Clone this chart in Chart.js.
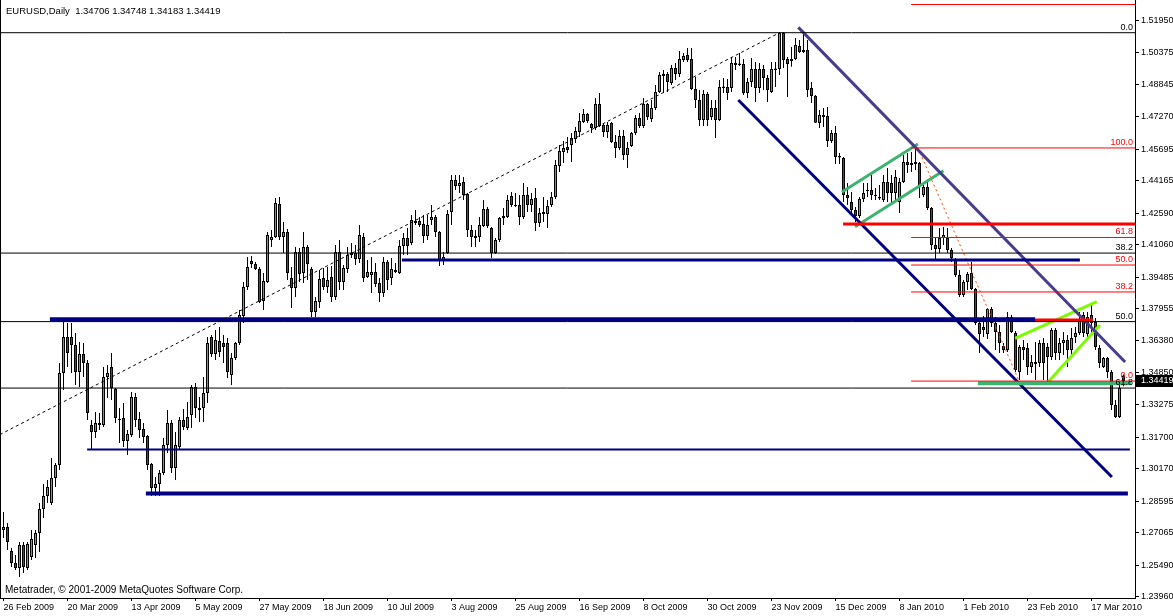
<!DOCTYPE html>
<html>
<head>
<meta charset="utf-8">
<script src="https://cdn.jsdelivr.net/npm/chart.js@4.4.1/dist/chart.umd.min.js"></script>
<style>
    html, body { margin: 0; padding: 0; background: #fff; }
    #wrap { width: 1173px; height: 616px; position: relative; }
</style>
</head>
<body>
<div id="wrap"><canvas id="chart"></canvas></div>
<script>
// EURUSD daily candles, 26 Feb 2009 - 29 Mar 2010
const opens = [
    1.2719, 1.2734, 1.2617, 1.2559, 1.2535, 1.2646, 1.2535, 1.2588, 1.2646, 1.2705,
    1.2821, 1.2884, 1.2850, 1.2972, 1.3035, 1.3482, 1.3657, 1.3657, 1.3618, 1.3487,
    1.3575, 1.3531, 1.3230, 1.3196, 1.3239, 1.3230, 1.3463, 1.3511, 1.3404, 1.3259,
    1.3264, 1.3152, 1.3181, 1.3366, 1.3259, 1.3210, 1.3176, 1.3040, 1.2923, 1.2943,
    1.2996, 1.3132, 1.3239, 1.3020, 1.3123, 1.3254, 1.3215, 1.3278, 1.3414, 1.3312,
    1.3312, 1.3385, 1.3657, 1.3575, 1.3638, 1.3628, 1.3628, 1.3473, 1.3555, 1.3628,
    1.3759, 1.3900, 1.4027, 1.4012, 1.3988, 1.3832, 1.3925, 1.4129, 1.4143, 1.4304,
    1.4143, 1.4168, 1.3944, 1.3895, 1.4070, 1.3968, 1.4095, 1.3988, 1.3779, 1.3827,
    1.3944, 1.3900, 1.3949, 1.3852, 1.4070, 1.3925, 1.3988, 1.4056, 1.4065, 1.4036,
    1.4143, 1.3949, 1.3959, 1.3973, 1.3920, 1.3871, 1.4022, 1.3944, 1.3983, 1.3968,
    1.4099, 1.4138, 1.4114, 1.4211, 1.4221, 1.4206, 1.4148, 1.4226, 1.4240, 1.4168,
    1.4031, 1.4065, 1.4265, 1.4420, 1.4391, 1.4411, 1.4352, 1.4177, 1.4148, 1.4143,
    1.4197, 1.4279, 1.4187, 1.4065, 1.4129, 1.4236, 1.4240, 1.4342, 1.4299, 1.4299,
    1.4240, 1.4347, 1.4299, 1.4333, 1.4211, 1.4255, 1.4255, 1.4299, 1.4338, 1.4488,
    1.4556, 1.4581, 1.4590, 1.4619, 1.4654, 1.4702, 1.4741, 1.4692, 1.4673, 1.4790,
    1.4688, 1.4654, 1.4697, 1.4605, 1.4576, 1.4634, 1.4542, 1.4585, 1.4649, 1.4722,
    1.4683, 1.4790, 1.4717, 1.4770, 1.4848, 1.4935, 1.4935, 1.4892, 1.4965, 1.4935,
    1.5003, 1.5028, 1.5008, 1.4863, 1.4809, 1.4712, 1.4838, 1.4726, 1.4770, 1.4712,
    1.4867, 1.4872, 1.4867, 1.4989, 1.4986, 1.4984, 1.4843, 1.4897, 1.4960, 1.4867,
    1.4960, 1.4916, 1.4848, 1.4955, 1.4960, 1.5135, 1.5008, 1.4999, 1.5008, 1.5071,
    1.5052, 1.5052, 1.4867, 1.4829, 1.4697, 1.4736, 1.4731, 1.4610, 1.4649, 1.4537,
    1.4527, 1.4347, 1.4313, 1.4274, 1.4245, 1.4328, 1.4367, 1.4372, 1.4347, 1.4338,
    1.4323, 1.4410, 1.4406, 1.4357, 1.4313, 1.4410, 1.4508, 1.4503, 1.4508, 1.4503,
    1.4347, 1.4386, 1.4284, 1.4104, 1.4085, 1.4138, 1.4138, 1.4080, 1.4031, 1.3959,
    1.3861, 1.3925, 1.3968, 1.3890, 1.3725, 1.3706, 1.3672, 1.3793, 1.3725, 1.3681,
    1.3613, 1.3594, 1.3754, 1.3677, 1.3487, 1.3609, 1.3604, 1.3511, 1.3536, 1.3531,
    1.3628, 1.3609, 1.3560, 1.3691, 1.3579, 1.3628, 1.3643, 1.3594, 1.3657, 1.3677,
    1.3764, 1.3672, 1.3764, 1.3730, 1.3604, 1.3511, 1.3555, 1.3487, 1.3327, 1.3268,
    1.34706
];
const highs = [
    1.2807, 1.2753, 1.2632, 1.2598, 1.2661, 1.2661, 1.2661, 1.2719, 1.2719, 1.2850,
    1.2943, 1.2962, 1.3069, 1.3045, 1.3531, 1.3730, 1.3725, 1.3725, 1.3677, 1.3633,
    1.3628, 1.3545, 1.3254, 1.3293, 1.3288, 1.3511, 1.3521, 1.3579, 1.3409, 1.3312,
    1.3336, 1.3205, 1.3390, 1.3385, 1.3293, 1.3239, 1.3181, 1.3045, 1.2977, 1.3011,
    1.3166, 1.3302, 1.3254, 1.3196, 1.3268, 1.3307, 1.3341, 1.3424, 1.3434, 1.3366,
    1.3463, 1.3657, 1.3667, 1.3691, 1.3706, 1.3667, 1.3652, 1.3579, 1.3633, 1.3788,
    1.3925, 1.4046, 1.4051, 1.4022, 1.3997, 1.3968, 1.4168, 1.4177, 1.4333, 1.4338,
    1.4216, 1.4182, 1.3997, 1.4095, 1.4090, 1.4168, 1.4104, 1.3997, 1.3852, 1.3983,
    1.3993, 1.3997, 1.4002, 1.4104, 1.4129, 1.4007, 1.4095, 1.4114, 1.4104, 1.4202,
    1.4163, 1.4031, 1.4046, 1.4017, 1.3944, 1.4046, 1.4031, 1.4041, 1.4017, 1.4129,
    1.4163, 1.4187, 1.4250, 1.4274, 1.4240, 1.4250, 1.4250, 1.4299, 1.4250, 1.4172,
    1.4070, 1.4274, 1.4445, 1.4445, 1.4445, 1.4435, 1.4357, 1.4202, 1.4177, 1.4240,
    1.4323, 1.4289, 1.4192, 1.4138, 1.4240, 1.4284, 1.4347, 1.4362, 1.4357, 1.4347,
    1.4406, 1.4386, 1.4357, 1.4381, 1.4284, 1.4338, 1.4323, 1.4362, 1.4517, 1.4590,
    1.4610, 1.4629, 1.4649, 1.4678, 1.4746, 1.4765, 1.4746, 1.4697, 1.4819, 1.4843,
    1.4697, 1.4702, 1.4702, 1.4639, 1.4663, 1.4663, 1.4605, 1.4654, 1.4736, 1.4746,
    1.4819, 1.4794, 1.4809, 1.4882, 1.4945, 1.4955, 1.4945, 1.4979, 1.4989, 1.5047,
    1.5037, 1.5062, 1.5062, 1.4921, 1.4858, 1.4858, 1.4848, 1.4809, 1.4809, 1.4906,
    1.4916, 1.4911, 1.5018, 1.5018, 1.5037, 1.5008, 1.4916, 1.5013, 1.4994, 1.4989,
    1.4979, 1.4931, 1.4994, 1.4994, 1.5140, 1.5140, 1.5018, 1.5067, 1.5110, 1.5101,
    1.5135, 1.5101, 1.4897, 1.4833, 1.4760, 1.4770, 1.4775, 1.4663, 1.4683, 1.4551,
    1.4532, 1.4406, 1.4362, 1.4289, 1.4338, 1.4406, 1.4406, 1.4445, 1.4381, 1.4396,
    1.4445, 1.4479, 1.4445, 1.4469, 1.4430, 1.4542, 1.4551, 1.4556, 1.4576, 1.4508,
    1.4406, 1.4420, 1.4289, 1.4143, 1.4187, 1.4192, 1.4187, 1.4090, 1.4041, 1.3983,
    1.3934, 1.3973, 1.4022, 1.3895, 1.3740, 1.3759, 1.3798, 1.3803, 1.3754, 1.3716,
    1.3628, 1.3779, 1.3764, 1.3686, 1.3618, 1.3643, 1.3628, 1.3570, 1.3633, 1.3643,
    1.3652, 1.3628, 1.3701, 1.3701, 1.3652, 1.3681, 1.3667, 1.3701, 1.3706, 1.3779,
    1.3779, 1.3779, 1.3813, 1.3750, 1.3618, 1.3560, 1.3560, 1.3497, 1.3351, 1.3424,
    1.34748
];
const lows = [
    1.2680, 1.2622, 1.2539, 1.2525, 1.2491, 1.2510, 1.2525, 1.2573, 1.2583, 1.2612,
    1.2777, 1.2850, 1.2841, 1.2928, 1.3011, 1.3400, 1.3511, 1.3482, 1.3424, 1.3414,
    1.3463, 1.3254, 1.3113, 1.3166, 1.3205, 1.3220, 1.3361, 1.3351, 1.3239, 1.3142,
    1.3123, 1.3084, 1.3171, 1.3220, 1.3166, 1.3142, 1.3011, 1.2884, 1.2884, 1.2884,
    1.2987, 1.3093, 1.2996, 1.2962, 1.3113, 1.3205, 1.3205, 1.3215, 1.3264, 1.3244,
    1.3244, 1.3336, 1.3560, 1.3545, 1.3560, 1.3531, 1.3458, 1.3424, 1.3545, 1.3618,
    1.3725, 1.3886, 1.3993, 1.3983, 1.3822, 1.3788, 1.3920, 1.4095, 1.4138, 1.4129,
    1.4065, 1.3934, 1.3798, 1.3852, 1.3925, 1.3920, 1.3934, 1.3754, 1.3754, 1.3798,
    1.3886, 1.3871, 1.3827, 1.3837, 1.3886, 1.3886, 1.3968, 1.4041, 1.4007, 1.4017,
    1.3925, 1.3944, 1.3871, 1.3900, 1.3827, 1.3852, 1.3886, 1.3910, 1.3968, 1.3963,
    1.4056, 1.4056, 1.4104, 1.4202, 1.4192, 1.4114, 1.4129, 1.4202, 1.4143, 1.4002,
    1.4007, 1.4061, 1.4202, 1.4372, 1.4357, 1.4323, 1.4143, 1.4095, 1.4095, 1.4119,
    1.4192, 1.4187, 1.4041, 1.4061, 1.4119, 1.4202, 1.4236, 1.4289, 1.4289, 1.4202,
    1.4231, 1.4265, 1.4265, 1.4172, 1.4192, 1.4216, 1.4187, 1.4289, 1.4328, 1.4459,
    1.4503, 1.4551, 1.4508, 1.4600, 1.4629, 1.4697, 1.4697, 1.4649, 1.4663, 1.4678,
    1.4629, 1.4624, 1.4600, 1.4527, 1.4566, 1.4517, 1.4479, 1.4581, 1.4639, 1.4673,
    1.4673, 1.4712, 1.4702, 1.4760, 1.4843, 1.4843, 1.4848, 1.4882, 1.4906, 1.4921,
    1.4994, 1.4994, 1.4858, 1.4770, 1.4683, 1.4683, 1.4683, 1.4712, 1.4624, 1.4707,
    1.4843, 1.4809, 1.4848, 1.4955, 1.4974, 1.4833, 1.4819, 1.4872, 1.4799, 1.4843,
    1.4858, 1.4799, 1.4843, 1.4872, 1.4931, 1.4965, 1.4824, 1.4970, 1.5003, 1.5037,
    1.5037, 1.4824, 1.4794, 1.4697, 1.4673, 1.4678, 1.4581, 1.4600, 1.4498, 1.4498,
    1.4313, 1.4299, 1.4250, 1.4216, 1.4236, 1.4313, 1.4338, 1.4323, 1.4323, 1.4323,
    1.4313, 1.4313, 1.4308, 1.4313, 1.4260, 1.4406, 1.4454, 1.4459, 1.4469, 1.4333,
    1.4338, 1.4274, 1.4080, 1.4031, 1.4065, 1.4104, 1.4065, 1.4022, 1.3949, 1.3852,
    1.3852, 1.3886, 1.3886, 1.3716, 1.3579, 1.3657, 1.3648, 1.3706, 1.3594, 1.3579,
    1.3579, 1.3584, 1.3677, 1.3487, 1.3448, 1.3545, 1.3473, 1.3482, 1.3448, 1.3511,
    1.3448, 1.3434, 1.3545, 1.3545, 1.3545, 1.3570, 1.3511, 1.3555, 1.3628, 1.3667,
    1.3657, 1.3657, 1.3677, 1.3594, 1.3507, 1.3507, 1.3458, 1.3302, 1.3264, 1.3264,
    1.34183
];
const closes = [
    1.2734, 1.2661, 1.2559, 1.2535, 1.2646, 1.2539, 1.2651, 1.2675, 1.2705, 1.2821,
    1.2884, 1.2928, 1.2972, 1.3035, 1.3482, 1.3657, 1.3579, 1.3618, 1.3487, 1.3575,
    1.3531, 1.3288, 1.3196, 1.3239, 1.3230, 1.3463, 1.3482, 1.3409, 1.3264, 1.3254,
    1.3152, 1.3186, 1.3366, 1.3254, 1.3205, 1.3171, 1.3035, 1.2923, 1.2943, 1.2996,
    1.3132, 1.3239, 1.3020, 1.3132, 1.3254, 1.3220, 1.3268, 1.3414, 1.3312, 1.3302,
    1.3385, 1.3628, 1.3575, 1.3643, 1.3584, 1.3609, 1.3487, 1.3555, 1.3628, 1.3764,
    1.3900, 1.3997, 1.4012, 1.3988, 1.3827, 1.3929, 1.4153, 1.4143, 1.4308, 1.4143,
    1.4168, 1.3968, 1.3895, 1.4070, 1.3963, 1.4095, 1.4012, 1.3779, 1.3832, 1.3939,
    1.3900, 1.3934, 1.3852, 1.4070, 1.3925, 1.3993, 1.4056, 1.4065, 1.4036, 1.4153,
    1.3944, 1.3973, 1.3973, 1.3915, 1.3871, 1.4022, 1.3934, 1.3988, 1.3973, 1.4099,
    1.4138, 1.4099, 1.4226, 1.4221, 1.4202, 1.4148, 1.4202, 1.4240, 1.4168, 1.4031,
    1.4046, 1.4255, 1.4420, 1.4391, 1.4406, 1.4347, 1.4177, 1.4143, 1.4138, 1.4202,
    1.4279, 1.4197, 1.4065, 1.4129, 1.4236, 1.4245, 1.4323, 1.4299, 1.4294, 1.4240,
    1.4347, 1.4299, 1.4328, 1.4211, 1.4260, 1.4265, 1.4294, 1.4338, 1.4493, 1.4561,
    1.4576, 1.4566, 1.4624, 1.4658, 1.4707, 1.4741, 1.4707, 1.4673, 1.4790, 1.4683,
    1.4654, 1.4688, 1.4605, 1.4576, 1.4634, 1.4542, 1.4576, 1.4649, 1.4722, 1.4683,
    1.4790, 1.4726, 1.4770, 1.4848, 1.4931, 1.4926, 1.4897, 1.4965, 1.4935, 1.5008,
    1.5023, 1.5003, 1.4863, 1.4809, 1.4712, 1.4838, 1.4712, 1.4770, 1.4712, 1.4872,
    1.4875, 1.4843, 1.4989, 1.4979, 1.4979, 1.4843, 1.4897, 1.4960, 1.4867, 1.4960,
    1.4916, 1.4858, 1.4960, 1.4962, 1.5135, 1.5003, 1.4984, 1.5008, 1.5076, 1.5042,
    1.5042, 1.4858, 1.4829, 1.4699, 1.4736, 1.4726, 1.4610, 1.4649, 1.4532, 1.4530,
    1.4347, 1.4333, 1.4274, 1.4245, 1.4328, 1.4357, 1.4372, 1.4347, 1.4342, 1.4330,
    1.4410, 1.4357, 1.4357, 1.4435, 1.4410, 1.4508, 1.4493, 1.4493, 1.4498, 1.4386,
    1.4386, 1.4284, 1.4104, 1.4085, 1.4138, 1.4153, 1.4080, 1.4041, 1.3959, 1.3861,
    1.3925, 1.3963, 1.3890, 1.3725, 1.3672, 1.3691, 1.3793, 1.3725, 1.3681, 1.3628,
    1.3594, 1.3754, 1.3681, 1.3497, 1.3609, 1.3594, 1.3511, 1.3536, 1.3526, 1.3628,
    1.3531, 1.3560, 1.3691, 1.3579, 1.3628, 1.3643, 1.3594, 1.3652, 1.3677, 1.3740,
    1.3677, 1.3754, 1.3725, 1.3609, 1.3531, 1.3555, 1.3487, 1.3327, 1.3268, 1.3409,
    1.34419
];

// axis labels
const dateTickIndex = [0, 16, 32, 48, 64, 80, 96, 112, 128, 144, 160, 176, 192, 208, 224, 240, 256, 272];
const dateTickLabels = ['26 Feb 2009', '20 Mar 2009', '13 Apr 2009', '5 May 2009', '27 May 2009', '18 Jun 2009',
    '10 Jul 2009', '3 Aug 2009', '25 Aug 2009', '16 Sep 2009', '8 Oct 2009', '30 Oct 2009', '23 Nov 2009',
    '15 Dec 2009', '8 Jan 2010', '1 Feb 2010', '23 Feb 2010', '17 Mar 2010'];
const priceTicks = [1.51950, 1.50375, 1.48845, 1.47270, 1.45695, 1.44165, 1.42590, 1.41060, 1.39485, 1.37955,
    1.36380, 1.34850, 1.33275, 1.31700, 1.30170, 1.28595, 1.27065, 1.25490, 1.23960];

// objects drawn on the chart (bar index, price)
const fibBlackLevels = [1.5136, 1.4065, 1.3732, 1.3409];
const fibBlackNames = ['0.0', '38.2', '50.0', '61.8'];
const fibRedLevels = [1.5273, 1.4576, 1.4141, 1.4007, 1.3876, 1.3443];
const fibRedNames = ['', '100.0', '61.8', '50.0', '38.2', '0.0'];
const fibRedFrom = 226.9;
const supportLevels = [1.4031, 1.3743, 1.3110, 1.2897];
const supportFrom = [99.6, 11.6, 20.9, 35.6];
const supportTo = [269.1, 257.9, 281.6, 281.1];
const redLevels = [1.4206, 1.3740];
const redFrom = [209.9, 252.4];
const redTo = [282.9, 272.4];
const greenLevel = [1.3432, 243.6, 281.9];
const fibTrendBlack = [-0.9, 1.3183, 194.0, 1.5136];
const fibTrendRed = [228.6, 1.4576, 253.9, 1.3443];
const channelLow = [183.7, 1.4809, 277.1, 1.2977];
const channelHigh = [198.7, 1.5162, 280.4, 1.3536];
const flagUpper = [209.6, 1.4362, 228.6, 1.4595];
const flagLower = [212.9, 1.4193, 235.0, 1.4465];
const wedgeUpper = [252.9, 1.3651, 273.3, 1.3829];
const wedgeLower = [261.2, 1.3440, 274.1, 1.3716];

const upColour = 'rgb(50,205,50)';
const downColour = 'rgb(255,0,0)';
const fontFamily = '"Liberation Sans", Arial, sans-serif';
const fontSize = 9;

Chart.defaults.font.family = fontFamily;
Chart.defaults.font.size = fontSize;
Chart.defaults.color = '#000';

function segment(x1, y1, x2, y2, colour, width, dash) {
    return {
        type: 'line',
        data: [{x: x1, y: y1}, {x: x2, y: y2}],
        borderColor: colour,
        borderWidth: width,
        borderDash: dash || [],
        pointRadius: 0,
        fill: false,
        tension: 0,
        order: 0
    };
}

const lineSets = [];
fibBlackLevels.forEach(p => lineSets.push(segment(-0.9, p, 283, p, '#000', 1)));
fibRedLevels.forEach(p => lineSets.push(segment(fibRedFrom, p, 283, p, '#ff0000', 1)));
lineSets.push(segment(...fibTrendBlack, '#000', 1, [3, 3]));
const supportWidths = [3, 4, 2, 4];
supportLevels.forEach((p, k) => lineSets.push(segment(supportFrom[k], p, supportTo[k], p, '#000080', supportWidths[k])));
redLevels.forEach((p, k) => lineSets.push(segment(redFrom[k], p, redTo[k], p, '#ff0000', 3)));
lineSets.push(segment(greenLevel[1], greenLevel[0], greenLevel[2], greenLevel[0], '#3cb371', 4));
lineSets.push(segment(...channelLow, '#000080', 3));
lineSets.push(segment(...channelHigh, '#483d8b', 3));
lineSets.push(segment(...flagUpper, '#3cb371', 3));
lineSets.push(segment(...flagLower, '#3cb371', 3));
lineSets.push(segment(...wedgeUpper, '#7cfc00', 3));
lineSets.push(segment(...wedgeLower, '#7cfc00', 3));
lineSets.push(segment(...fibTrendRed, '#ff4500', 1, [2, 3]));

const wickData = opens.map((o, i) => ({x: i, y: [lows[i], highs[i]]}));
const bodyData = opens.map((o, i) => ({x: i, y: [o, closes[i]]}));
const bodyColours = opens.map((o, i) => closes[i] >= o ? upColour : downColour);

// fib level names, header, copyright and the last-price box
const overlayText = {
    id: 'overlayText',
    afterDatasetsDraw(chart) {
        const {ctx, chartArea: area, scales: {y}} = chart;
        ctx.save();
        ctx.font = fontSize + 'px ' + fontFamily;
        ctx.textAlign = 'right';
        ctx.textBaseline = 'bottom';
        ctx.fillStyle = '#000';
        fibBlackLevels.forEach((p, k) => ctx.fillText(fibBlackNames[k], area.right - 2, y.getPixelForValue(p) - 1));
        ctx.fillStyle = '#ff0000';
        fibRedLevels.forEach((p, k) => ctx.fillText(fibRedNames[k], area.right - 2, y.getPixelForValue(p) - 1));

        ctx.fillStyle = '#000';
        ctx.textAlign = 'left';
        ctx.textBaseline = 'middle';
        const last = opens.length - 1;
        const head = 'EURUSD,Daily  ' + [opens[last], highs[last], lows[last], closes[last]].map(v => v.toFixed(5)).join(' ');
        ctx.font = '9.5px ' + fontFamily;
        ctx.fillText(head, 6, 11);
        ctx.font = '10px ' + fontFamily;
        ctx.fillText('Metatrader, \u00a9 2001-2009 MetaQuotes Software Corp.', 5, 590);

        ctx.strokeStyle = '#000';
        ctx.lineWidth = 1;
        ctx.beginPath();
        ctx.moveTo(area.left + 0.5, area.top);
        ctx.lineTo(area.left + 0.5, area.bottom);
        ctx.stroke();
        ctx.restore();
    },
    afterDraw(chart) {
        const {ctx, chartArea: area, scales: {y}} = chart;
        const last = closes[closes.length - 1];
        const py = Math.round(y.getPixelForValue(last));
        ctx.save();
        ctx.fillStyle = '#000';
        ctx.fillRect(area.right + 1, py - 6, chart.width - area.right, 12);
        ctx.fillStyle = '#fff';
        ctx.font = fontSize + 'px ' + fontFamily;
        ctx.textBaseline = 'middle';
        ctx.fillText(last.toFixed(5), area.right + 6, py);
        ctx.restore();
    }
};

const ctx = document.getElementById('chart').getContext('2d');
new Chart(ctx, {
    type: 'bar',
    data: {
        datasets: [
            ...lineSets,
            {
                data: bodyData,
                backgroundColor: bodyColours,
                borderColor: '#000',
                borderWidth: 1,
                borderSkipped: false,
                barThickness: 3,
                grouped: false,
                inflateAmount: 0,
                order: 1
            },
            {
                data: wickData,
                backgroundColor: '#000',
                borderWidth: 0,
                barThickness: 1,
                grouped: false,
                inflateAmount: 0,
                order: 2
            }
        ]
    },
    options: {
        responsive: true,
        maintainAspectRatio: false,
        animation: false,
        events: [],
        layout: { padding: 0 },
        plugins: {
            legend: { display: false },
            tooltip: { enabled: false },
            title: { display: false }
        },
        scales: {
            x: {
                type: 'linear',
                min: -0.875,
                max: 282.875,
                offset: false,
                afterBuildTicks: s => { s.ticks = dateTickIndex.map(v => ({value: v})); },
                afterFit: s => {
                    s.height = 18;
                    s.paddingLeft = 0;
                    s.paddingRight = 0;
                },
                ticks: {
                    autoSkip: false,
                    maxRotation: 0,
                    align: 'start',
                    padding: 1,
                    callback: (v, i) => dateTickLabels[i]
                },
                grid: { drawOnChartArea: false, drawTicks: true, tickLength: 3, color: '#000', offset: false },
                border: { display: true, color: '#000' }
            },
            y: {
                type: 'linear',
                position: 'right',
                min: 1.23888,
                max: 1.5295,
                afterBuildTicks: s => { s.ticks = priceTicks.map(v => ({value: v})); },
                afterFit: s => {
                    s.width = 38;
                    s.paddingTop = 0;
                    s.paddingBottom = 0;
                },
                ticks: {
                    padding: 2,
                    callback: v => v.toFixed(5)
                },
                grid: { drawOnChartArea: false, drawTicks: true, tickLength: 4, color: '#000' },
                border: { display: true, color: '#000' }
            }
        }
    },
    plugins: [overlayText]
});
</script>
</body>
</html>
